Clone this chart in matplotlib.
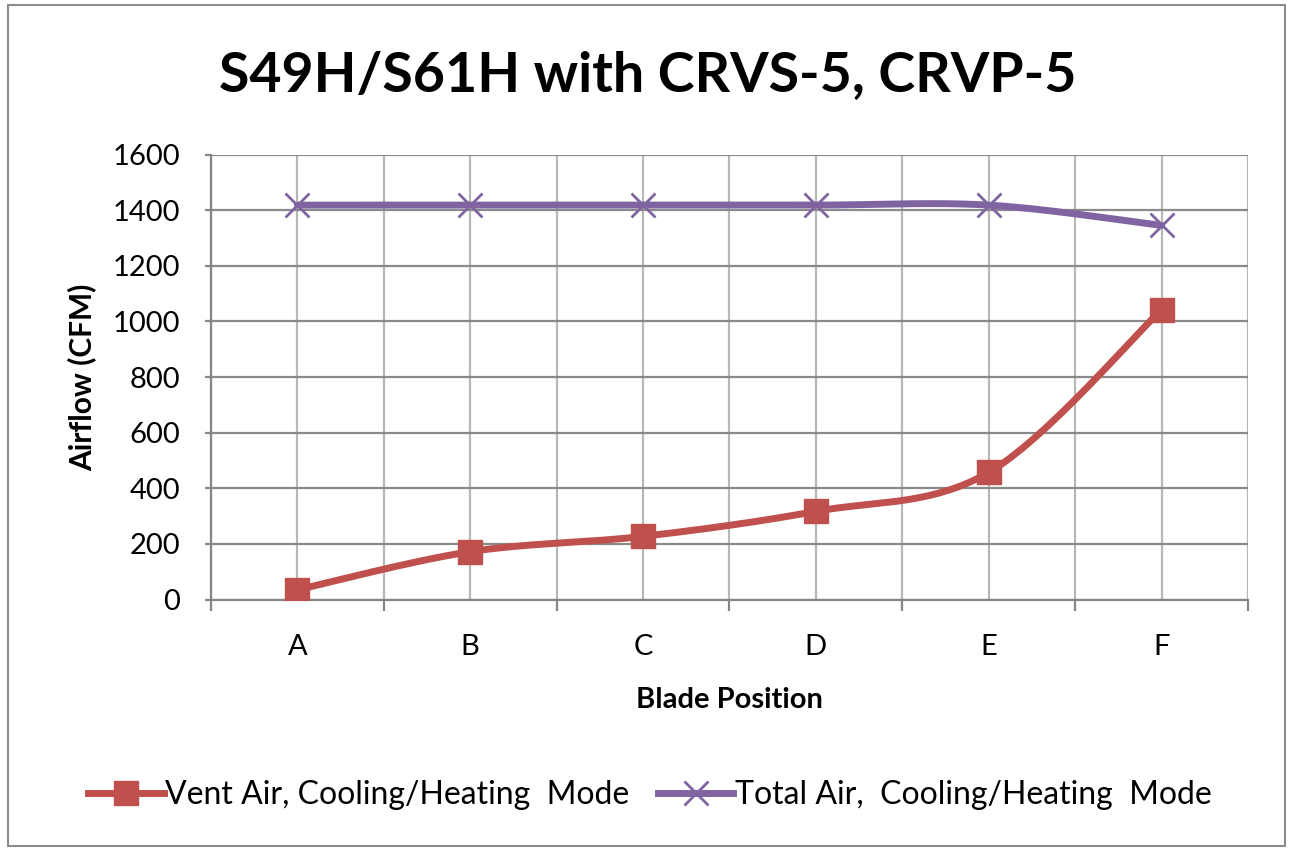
import numpy as np
import matplotlib
matplotlib.use("Agg")
import matplotlib.pyplot as plt
from matplotlib.patches import Rectangle
from matplotlib.lines import Line2D

categories = ["A", "B", "C", "D", "E", "F"]
vent_air = [35, 172, 227, 317, 457, 1042]
total_air = [1418, 1418, 1418, 1418, 1418, 1345]
y_ticks = [0, 200, 400, 600, 800, 1000, 1200, 1400, 1600]

RED = "#C0504D"
PURPLE = "#8064A2"
FONT = ["Lato", "DejaVu Sans"]
plt.rcParams["font.family"] = FONT


def smooth(xs, ys, n=40):
    """Excel-like Bezier smoothing through the points."""
    xs = np.asarray(xs, float)
    ys = np.asarray(ys, float)
    px, py = [], []
    m = len(xs)
    for i in range(m - 1):
        p0 = (xs[max(i - 1, 0)], ys[max(i - 1, 0)])
        p1 = (xs[i], ys[i])
        p2 = (xs[i + 1], ys[i + 1])
        p3 = (xs[min(i + 2, m - 1)], ys[min(i + 2, m - 1)])
        c1 = (p1[0] + (p2[0] - p0[0]) / 6, p1[1] + (p2[1] - p0[1]) / 6)
        c2 = (p2[0] - (p3[0] - p1[0]) / 6, p2[1] - (p3[1] - p1[1]) / 6)
        t = np.linspace(0, 1, n)
        bx = (1 - t) ** 3 * p1[0] + 3 * (1 - t) ** 2 * t * c1[0] + 3 * (1 - t) * t ** 2 * c2[0] + t ** 3 * p2[0]
        by = (1 - t) ** 3 * p1[1] + 3 * (1 - t) ** 2 * t * c1[1] + 3 * (1 - t) * t ** 2 * c2[1] + t ** 3 * p2[1]
        px.extend(bx)
        py.extend(by)
    return np.array(px), np.array(py)


fig = plt.figure(figsize=(12.9, 8.48), dpi=100)
fig.patch.set_facecolor("white")
fig.add_artist(Rectangle((0.006, 0.002), 0.99, 0.992, transform=fig.transFigure,
                         fill=False, edgecolor="#8c8c8c", linewidth=1.5))

W, H = 1290, 848
ax = fig.add_axes([211 / W, 1 - 599.5 / H, (1248 - 211) / W, (599.5 - 154.5) / H])

x = np.arange(len(categories))
ax.set_xlim(-0.5, len(categories) - 0.5)
ax.set_ylim(0, 1600)
ax.set_yticks(y_ticks)
ax.set_xticks(x)
ax.set_xticklabels(categories)
ax.set_xticks(np.arange(-0.5, len(categories), 1.0), minor=True)

ax.grid(axis="y", which="major", color="#8a8a8a", linewidth=1.6, zorder=0)
for xv in np.arange(-0.5, len(categories), 0.5):
    ax.axvline(xv, color="#b8b8b8", linewidth=1.6, zorder=0)

for s in ["top", "right"]:
    ax.spines[s].set_visible(False)
ax.spines["left"].set_color("#868686")
ax.spines["left"].set_linewidth(1.6)
ax.spines["bottom"].set_color("#868686")
ax.spines["bottom"].set_linewidth(1.6)

ax.tick_params(axis="y", which="major", length=4, width=1.6, color="#868686",
               labelsize=21, pad=18)
ax.tick_params(axis="x", which="major", length=0, labelsize=21, pad=25)
ax.tick_params(axis="x", which="minor", length=8, width=1.6, color="#868686")

sx, sy = smooth(x, vent_air)
ax.plot(sx, sy, color=RED, linewidth=5, solid_capstyle="round", zorder=3)
ax.plot(x, vent_air, linestyle="none", marker="s", markersize=17,
        color=RED, markeredgecolor=RED, zorder=4)

sx, sy = smooth(x, total_air)
ax.plot(sx, sy, color=PURPLE, linewidth=5, solid_capstyle="round", zorder=3)
ax.plot(x, total_air, linestyle="none", marker="x", markersize=17,
        markeredgewidth=2, color=PURPLE, zorder=4)

ax.set_ylabel("Airflow (CFM)", fontsize=21.5, fontweight="bold", labelpad=12)
ax.set_xlabel("Blade Position", fontsize=21, fontweight="bold", labelpad=19)

fig.text(648 / W, 1 - 75 / H, "S49H/S61H with CRVS-5, CRVP-5",
         ha="center", va="center", fontsize=40, fontweight="bold")

handles = [
    Line2D([], [], color=RED, linewidth=5, marker="s", markersize=17),
    Line2D([], [], color=PURPLE, linewidth=5, marker="x", markersize=17,
           markeredgewidth=2),
]
labels = ["Vent Air, Cooling/Heating  Mode", "Total Air,  Cooling/Heating  Mode"]
fig.legend(handles, labels, loc="center", bbox_to_anchor=(650 / W, 1 - 795 / H),
           ncol=2, frameon=False, fontsize=23, handlelength=2.35,
           handletextpad=0.05, columnspacing=0.9)

fig.savefig("out.png", dpi=100, facecolor="white")
